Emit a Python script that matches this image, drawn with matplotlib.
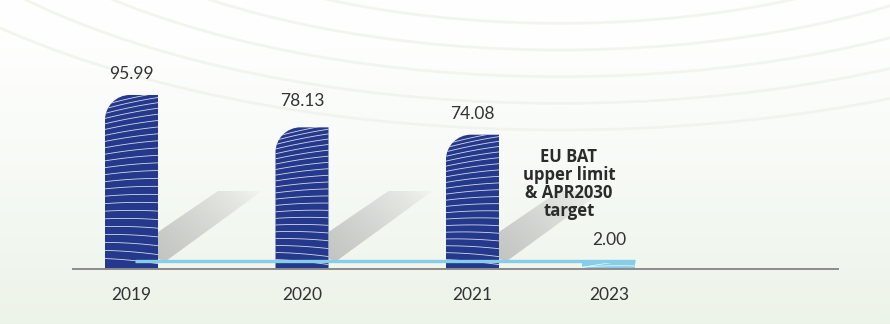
import numpy as np
import matplotlib
matplotlib.use("Agg")
import matplotlib.pyplot as plt
from matplotlib.path import Path
from matplotlib.patches import PathPatch, Polygon, Ellipse

# data
years = ["2019", "2020", "2021", "2023"]
values = [95.99, 78.13, 74.08, 2.00]
value_labels = ["95.99", "78.13", "74.08", "2.00"]
note = "EU BAT\nupper limit\n& APR2030\ntarget"

plt.rcParams['font.family'] = ['Lato', 'DejaVu Sans']

W, H = 890, 324
fig = plt.figure(figsize=(W / 100, H / 100), dpi=100)
ax = fig.add_axes([0, 0, 1, 1])

# layout (pixel scale -> data)
pxx = 170.5            # px per category unit
pxy = 1.813            # px per value unit
x0_px, base_px = 131.5, 269
ax.set_xlim(-x0_px / pxx, (W - x0_px) / pxx)
ax.set_ylim(-(H - base_px) / pxy, base_px / pxy)
ax.axis("off")
pos = [0, 1, 2, 2.8]
bw = 53 / pxx
navy = "#24398b"
lightblue = "#86cdea"

def dx(p):
    return p / pxx

def dy(p):
    return p / pxy

# background gradient
g = np.linspace(0, 1, 200)[:, None]
top_c = np.array([1.0, 1.0, 1.0])
bot_c = np.array([0.925, 0.953, 0.91])
grad = top_c + (bot_c - top_c) * g[..., None] ** 1.3
grad = np.repeat(grad, 2, axis=1)
xl, yl = ax.get_xlim(), ax.get_ylim()
ax.imshow(grad, extent=[xl[0], xl[1], yl[0], yl[1]], origin="upper",
          aspect="auto", zorder=0)

# faint arcs
for r in np.linspace(200, 520, 7):
    e = Ellipse((dx(560 - x0_px), dy(base_px + 200)), dx(2.4 * r + 300), dy(1.0 * r + 140),
                fill=False, ec="#eef2e8", lw=2.0, alpha=0.7, zorder=0.5)
    ax.add_patch(e)

# shadows
def shadow(xr):
    pts = [(0, 10), (0, 37), (60, 78), (104, 78), (8, 8)]
    poly = [(xr + dx(a), dy(b)) for a, b in pts]
    patch = Polygon(poly, closed=True, fc="none", ec="none")
    ax.add_patch(patch)
    n = 100
    xx, yy = np.meshgrid(np.linspace(0, 1, n), np.linspace(0, 1, n))
    t = np.clip(1 - (0.6 * xx + 0.4 * yy), 0, 1)
    rgba = np.zeros((n, n, 4))
    rgba[..., :3] = 0.6
    rgba[..., 3] = 0.55 * t ** 0.7
    im = ax.imshow(rgba, extent=[xr, xr + dx(104), 0, dy(78)], origin="lower",
                   aspect="auto", zorder=1, interpolation="bilinear")
    im.set_clip_path(patch)

for p in pos[:3]:
    shadow(p + bw / 2)

# bars with rounded top-left corner and white line texture
def bar(xc, h, color, rounded=True, nlines=26):
    x0, x1 = xc - bw / 2, xc + bw / 2
    rx, ry = dx(25), dy(25)
    k = 0.5523
    if rounded:
        verts = [(x0, 0), (x0, h - ry), (x0, h - ry * (1 - k)), (x0 + rx * (1 - k), h),
                 (x0 + rx, h), (x1, h), (x1, 0), (x0, 0)]
        codes = [Path.MOVETO, Path.LINETO, Path.CURVE4, Path.CURVE4, Path.CURVE4,
                 Path.LINETO, Path.LINETO, Path.CLOSEPOLY]
    else:
        verts = [(x0, 0), (x0, h), (x1, h), (x1, 0), (x0, 0)]
        codes = [Path.MOVETO, Path.LINETO, Path.LINETO, Path.LINETO, Path.CLOSEPOLY]
    patch = PathPatch(Path(verts, codes), fc=color, ec="none", zorder=2)
    ax.add_patch(patch)
    hp = h * pxy
    xs = np.linspace(x0, x1, 30)
    u = (xs - x0) / (x1 - x0)
    for i in range(1, nlines + 1):
        s = (i / (nlines + 1)) ** 1.25
        ymid = hp * (1 - s)
        slope = 12 * (1 - s) - 6 * s
        ypx = ymid + slope * (u - 0.5) - 3 * (u - 0.5) ** 2
        ln, = ax.plot(xs, dy(ypx), color="white", lw=0.6, alpha=0.8, zorder=3)
        ln.set_clip_path(patch)
    return patch

for i, (p, v) in enumerate(zip(pos, values)):
    if i < 3:
        bar(p, v, navy, nlines=int(12 + v * 0.13))
    else:
        bar(p, max(v, dy(8)), lightblue, rounded=False, nlines=2)

# target line
ax.plot([pos[0] + dx(3.5), pos[3] + bw / 2], [max(values[3], dy(8))] * 2,
        color=lightblue, lw=2.4, zorder=4, solid_capstyle="butt")

# axis baseline
ax.plot([dx(73 - x0_px), dx(838 - x0_px)], [0, 0], color="#8c8c8c", lw=1.4, zorder=4)

# labels
for i, (p, v, lab) in enumerate(zip(pos, values, value_labels)):
    top = max(v, dy(8))
    off = 26 if i == 1 else 21
    ax.text(p, top + dy(off), lab, ha="center", va="center", fontsize=12.5,
            color="#333333", zorder=5)
    ax.text(p, dy(-26), years[i], ha="center", va="center", fontsize=12.5,
            color="#333333", zorder=5)

ax.text(dx(569 - x0_px), dy(base_px - 184), note, ha="center", va="center",
        fontsize=12, fontweight="bold", color="#2b2b2b", linespacing=0.98,
        family=["Open Sans", "DejaVu Sans"], zorder=5)

fig.savefig("out.png", dpi=100)
